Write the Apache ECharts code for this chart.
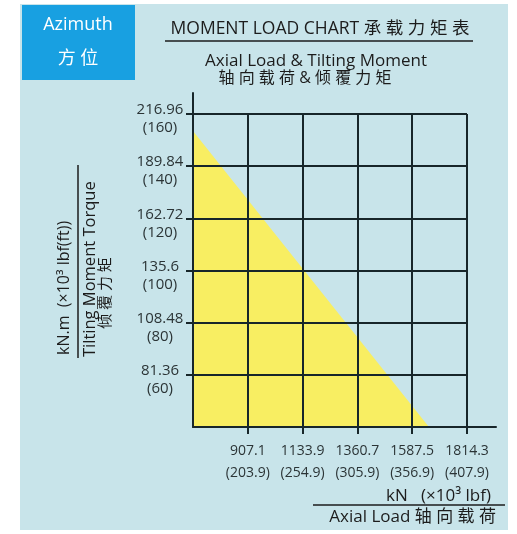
<!DOCTYPE html>
<html>
<head>
<meta charset="utf-8">
<script src="https://cdn.jsdelivr.net/npm/echarts@6/dist/echarts.min.js"></script>
<style>
  html, body { margin: 0; padding: 0; background: #ffffff; }
  #chart { width: 517px; height: 534px; }
</style>
</head>
<body>
<div id="chart"></div>
<script>
// ---- data ----
// x axis: axial load, kN (with x10^3 lbf in brackets)
const axialKN = [907.1, 1133.9, 1360.7, 1587.5, 1814.3];
const axialLbf = ['203.9', '254.9', '305.9', '356.9', '407.9'];
// y axis: tilting moment, kN.m (with x10^3 lbf(ft) in brackets)
const momentKNm = [81.36, 108.48, 135.6, 162.72, 189.84, 216.96];
const momentLbfFt = [60, 80, 100, 120, 140, 160];
// load limit boundary (yellow region underneath)
const limitAxial = [680.3, 1657];
const limitMoment = [208.1, 54.24];

// axis settings
const X_MIN = 680.4, X_MAX = 1814.4, X_STEP = 226.8;
const Y_MIN = 54.24, Y_MAX = 216.96, Y_STEP = 27.12;

const GRID_COLOR = '#17262a';
const TEXT_COLOR = '#2b3436';
const FONT = '"Open Sans", "Noto Sans CJK SC", sans-serif';

const chart = echarts.init(document.getElementById('chart'), null, { renderer: 'canvas' });

const option = {
  animation: false,
  backgroundColor: '#ffffff',
  grid: [
    { left: 193, top: 114, width: 274, height: 313 },
    { left: 193, top: 93, width: 303, height: 334 }
  ],
  xAxis: [
    {
      gridIndex: 0, type: 'value', min: X_MIN, max: X_MAX, interval: X_STEP, z: 5,
      axisLine: { show: false },
      axisTick: { show: true, length: 7, inside: false,
        customValues: axialKN.map((v, i) => X_MIN + (i + 1) * X_STEP),
        lineStyle: { color: GRID_COLOR, width: 2 } },
      splitLine: { show: true, lineStyle: { color: GRID_COLOR, width: 2 } },
      axisLabel: {
        show: true, margin: 13, color: TEXT_COLOR, fontSize: 14, lineHeight: 22,
        fontFamily: FONT, showMinLabel: false,
        formatter: (v) => {
          const i = Math.round((v - X_MIN) / X_STEP) - 1;
          if (i < 0 || i >= axialKN.length) return '';
          return axialKN[i] + '\n(' + axialLbf[i] + ')';
        }
      }
    },
    {
      gridIndex: 1, type: 'value', min: 0, max: 1, z: 6,
      axisLine: { show: true, lineStyle: { color: GRID_COLOR, width: 2 } },
      axisTick: { show: false }, axisLabel: { show: false }, splitLine: { show: false }
    }
  ],
  yAxis: [
    {
      gridIndex: 0, type: 'value', min: Y_MIN, max: Y_MAX, interval: Y_STEP, z: 5,
      axisLine: { show: false },
      axisTick: { show: true, length: 7,
        customValues: momentKNm.map((v, i) => Y_MIN + (i + 1) * Y_STEP),
        lineStyle: { color: GRID_COLOR, width: 2 } },
      splitLine: { show: true, lineStyle: { color: GRID_COLOR, width: 2 } },
      axisLabel: {
        show: true, margin: 33, align: 'center', color: TEXT_COLOR,
        fontFamily: FONT, showMinLabel: false,
        rich: {
          s: { fontSize: 1, lineHeight: 10 },
          v: { fontSize: 15, lineHeight: 18, color: TEXT_COLOR, fontFamily: FONT }
        },
        formatter: (v) => {
          const i = Math.round((v - Y_MIN) / Y_STEP) - 1;
          if (i < 0 || i >= momentKNm.length) return '';
          return '{s| }\n{v|' + momentKNm[i] + '}\n{v|(' + momentLbfFt[i] + ')}';
        }
      }
    },
    {
      gridIndex: 1, type: 'value', min: 0, max: 1, z: 6,
      axisLine: { show: true, lineStyle: { color: GRID_COLOR, width: 2 } },
      axisTick: { show: false }, axisLabel: { show: false }, splitLine: { show: false }
    }
  ],
  series: [
    {
      type: 'line', xAxisIndex: 0, yAxisIndex: 0, z: 1, silent: true,
      showSymbol: false, symbol: 'none', clip: true,
      data: limitAxial.map((x, i) => [x, limitMoment[i]]),
      lineStyle: { width: 0 },
      areaStyle: { color: '#f8ee62', opacity: 1, origin: 'start' }
    }
  ],
  graphic: [
    { type: 'rect', z: -10, silent: true, shape: { x: 20, y: 4, width: 488, height: 526 },
      style: { fill: '#c8e4ea' } },
    { type: 'rect', z: -9, silent: true, shape: { x: 22, y: 5, width: 113, height: 75 },
      style: { fill: '#18a0e1' } },
    { type: 'text', silent: true, x: 78, y: 25,
      style: { text: 'Azimuth', fill: '#ffffff', font: '18px ' + FONT, textAlign: 'center', textVerticalAlign: 'middle' } },
    { type: 'text', silent: true, x: 78, y: 59,
      style: { text: '方 位', fill: '#ffffff', font: '18px ' + FONT, textAlign: 'center', textVerticalAlign: 'middle' } },
    // header
    { type: 'text', silent: true, x: 320, y: 29,
      style: { text: 'MOMENT LOAD CHART 承 载 力 矩 表', fill: '#1c1c1c', font: '17.5px ' + FONT, textAlign: 'center', textVerticalAlign: 'middle' } },
    { type: 'line', silent: true, shape: { x1: 165, y1: 41, x2: 473, y2: 41 },
      style: { stroke: '#1c1c1c', lineWidth: 1.5 } },
    { type: 'text', silent: true, x: 316, y: 61,
      style: { text: 'Axial Load & Tilting Moment', fill: '#1c1c1c', font: '17px ' + FONT, textAlign: 'center', textVerticalAlign: 'middle' } },
    { type: 'text', silent: true, x: 305, y: 78,
      style: { text: '轴 向 载 荷 & 倾 覆 力 矩', fill: '#1c1c1c', font: '16px ' + FONT, textAlign: 'center', textVerticalAlign: 'middle' } },
    // y axis name
    { type: 'text', silent: true, x: 64, y: 355, rotation: Math.PI / 2,
      style: { text: 'kN.m  (×10³ lbf(ft))', fill: '#1c1c1c', font: '16px ' + FONT, textAlign: 'left', textVerticalAlign: 'middle' } },
    { type: 'line', silent: true, shape: { x1: 78, y1: 165, x2: 78, y2: 358 },
      style: { stroke: '#1c1c1c', lineWidth: 1.5 } },
    { type: 'text', silent: true, x: 90, y: 357, rotation: Math.PI / 2,
      style: { text: 'Tilting Moment Torque', fill: '#1c1c1c', font: '16.5px ' + FONT, textAlign: 'left', textVerticalAlign: 'middle' } },
    { type: 'text', silent: true, x: 106, y: 293, rotation: Math.PI / 2,
      style: { text: '倾 覆 力 矩', fill: '#1c1c1c', font: '15px ' + FONT, textAlign: 'center', textVerticalAlign: 'middle' } },
    // x axis name
    { type: 'text', silent: true, x: 491, y: 496,
      style: { text: 'kN   (×10³ lbf)', fill: '#1c1c1c', font: '17px ' + FONT, textAlign: 'right', textVerticalAlign: 'middle' } },
    { type: 'line', silent: true, shape: { x1: 313, y1: 505, x2: 505, y2: 505 },
      style: { stroke: '#1c1c1c', lineWidth: 1.5 } },
    { type: 'text', silent: true, x: 496, y: 517,
      style: { text: 'Axial Load 轴 向 载 荷', fill: '#1c1c1c', font: '17px ' + FONT, textAlign: 'right', textVerticalAlign: 'middle' } }
  ]
};

chart.setOption(option);
</script>
</body>
</html>
